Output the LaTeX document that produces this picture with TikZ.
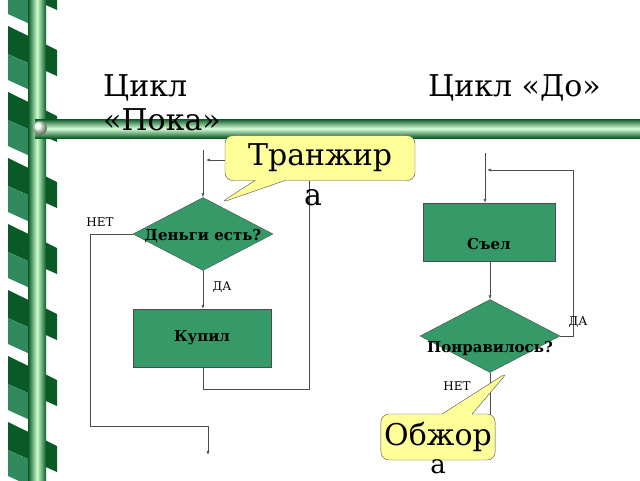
\documentclass[tikz,border=0pt]{standalone}
\usepackage{fontspec}
\setmainfont{DejaVu Serif}
\usetikzlibrary{shapes.geometric,shapes.callouts,arrows.meta}
\definecolor{boxgreen}{RGB}{53,153,104}
\definecolor{darkgreen}{RGB}{10,90,40}
\definecolor{calloutyellow}{RGB}{255,255,153}
\begin{document}
\begin{tikzpicture}[x=1pt,y=1pt,yscale=-1,
  block/.style={draw=black!70,fill=boxgreen,minimum width=132pt,minimum height=58pt,font=\bfseries\fontsize{15}{17}\selectfont},
  decision/.style={diamond,draw=black!70,fill=boxgreen,aspect=1.92,minimum width=140pt,minimum height=73pt,inner sep=0pt},
  dtext/.style={font=\bfseries\fontsize{15}{17}\selectfont,inner sep=0pt},
  flow/.style={draw=black!70,line width=0.6pt},
  flowarrow/.style={flow,-{Latex[length=4pt,width=3pt]}},
  lbl/.style={font=\fontsize{12}{14}\selectfont},
  title/.style={font=\fontsize{30}{34}\selectfont,align=left,anchor=north west,inner sep=0pt},
  bubble/.style={rectangle callout,rounded corners=8pt,draw=black!70,fill=calloutyellow,callout pointer width=30pt,font=\fontsize{30}{34}\selectfont}]
\useasboundingbox (0,0) rectangle (640,480);

%Decoration: ribbon and pole
\foreach \y in {-40,26,...,480}{
  \fill[darkgreen] (8,\y) -- (57,\y+24) -- (57,\y+50) -- (8,\y+28) -- cycle;
  \fill[boxgreen!90!black] (8,\y+28) -- (30,\y+38) -- (30,\y+64) -- (8,\y+54) -- cycle;
}
\shade[left color=darkgreen,right color=darkgreen,middle color=green!20!white] (28,0) rectangle (46,480);
\shade[top color=darkgreen,bottom color=darkgreen,middle color=green!15!white] (35,119) rectangle (640,138);
\shade[ball color=green!10!white] (40,128) circle (7);

% Titles
\node[title] (tWhile) at (103,74) {Цикл\\«Пока»};
\node[title] (tUntil) at (428,74) {Цикл «До»};

% Left flow: while loop
\coordinate (wStart) at (203,150);
\node[decision] (money) at (203,234) {};
\node[dtext] (moneyText) at (203,236) {Деньги есть?};
\node[block,minimum width=138pt] (bought) at (202,338) {Купил};
\coordinate (wNo1) at (90,234);
\coordinate (wNo2) at (90,426);
\coordinate (wNo3) at (208,426);
\coordinate (wEnd) at (208,455);
\coordinate (wBack1) at (203,389);
\coordinate (wBack2) at (309,389);
\coordinate (wBack3) at (309,160);
\coordinate (wBack4) at (206,160);
\draw[flowarrow] (wStart) -- (money.north);
\draw[flowarrow] (money.south) -- (bought.north -| money.south);
\draw[flow] (money.west) -- (wNo1) -- (wNo2) -- (wNo3);
\draw[flowarrow] (wNo3) -- (wEnd);
\draw[flow] (bought.south -| wBack1) -- (wBack1) -- (wBack2) -- (wBack3);
\draw[flowarrow] (wBack3) -- (wBack4);
\node[lbl] (wNoLbl) at (100,222) {НЕТ};
\node[lbl] (wYesLbl) at (222,287) {ДА};

% Right flow: do-until loop
\coordinate (uStart) at (485,153);
\node[block] (ate) at (489,232) {};
\node[dtext] (ateText) at (489,244) {Съел};
\node[decision] (liked) at (490,336) {};
\node[dtext] (likedText) at (490,348) {Понравилось?};
\coordinate (uYes1) at (573,336);
\coordinate (uYes2) at (573,170);
\coordinate (uYes3) at (487,170);
\coordinate (uNo) at (490,420);
\draw[flowarrow] (uStart) -- (ate.north -| uStart);
\draw[flowarrow] (ate.south -| liked.north) -- (liked.north);
\draw[flow] (liked.east) -- (uYes1) -- (uYes2);
\draw[flowarrow] (uYes2) -- (uYes3);
\draw[flow] (liked.south) -- (uNo);
\node[lbl] (uYesLbl) at (578,322) {ДА};
\node[lbl] (uNoLbl) at (457,386) {НЕТ};

% Callouts
\node[bubble,minimum width=190pt,minimum height=45pt,callout absolute pointer={(220,203)}] (spender) at (320,158) {Транжир};
\node[font=\fontsize{30}{34}\selectfont] (spenderA) at (313,198) {а};
\node[bubble,minimum width=110pt,minimum height=46pt,callout absolute pointer={(508,372)}] (glutton) at (438,437) {Обжор};
\node[font=\fontsize{26}{30}\selectfont,anchor=north,inner sep=0pt] (gluttonA) at (438,459) {а};
\end{tikzpicture}
\end{document}
